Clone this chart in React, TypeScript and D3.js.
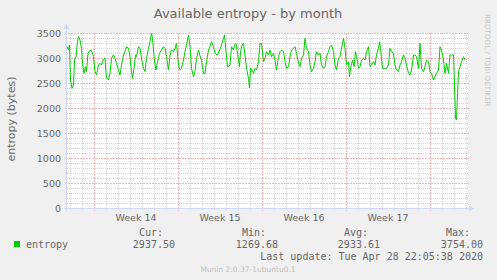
import React from "react";
import * as d3 from "d3";

const title = "Available entropy - by month";
const yLabel = "entropy (bytes)";
const yTicks = [0, 500, 1000, 1500, 2000, 2500, 3000, 3500];
const weekLabels = ["Week 14", "Week 15", "Week 16", "Week 17"];
const statHeads = ["Cur:", "Min:", "Avg:", "Max:"];
const statValues = ["2937.50", "1269.68", "2933.61", "3754.00"];
const seriesName = "entropy";
const lastUpdate = "Last update: Tue Apr 28 22:05:38 2020";
const footer = "Munin 2.0.37-1ubuntu0.1";
const watermark = "RRDTOOL / TOBI OETIKER";

const startTime = Date.UTC(2020, 2, 27, 18);
const endTime = Date.UTC(2020, 3, 30, 4);

// hours since startTime
const sampleHours = [
  0, 3, 5, 7, 10, 13, 15, 18, 21, 23, 26, 29, 31, 34, 37, 39, 42, 45, 49, 53, 56, 59, 63, 66, 69, 73, 76, 79, 83, 86,
  89, 93, 96, 99, 103, 106, 109, 113, 116, 119, 123, 126, 129, 131, 134, 137, 139, 143, 146, 149, 153, 156, 159, 163,
  166, 169, 171, 175, 178, 181, 185, 189, 193, 196, 199, 203, 206, 209, 213, 216, 219, 223, 226, 229, 233, 236, 239,
  243, 246, 249, 253, 256, 259, 263, 266, 269, 273, 276, 279, 283, 286, 289, 293, 296, 301, 305, 307, 310, 313, 315,
  318, 321, 323, 326, 329, 333, 335, 338, 341, 345, 347, 350, 353, 356, 359, 363, 365, 367, 370, 373, 376, 379, 383,
  386, 389, 393, 396, 399, 403, 406, 409, 413, 416, 419, 423, 426, 429, 433, 436, 439, 443, 446, 449, 453, 456, 459,
  463, 466, 469, 473, 476, 479, 483, 486, 489, 493, 496, 499, 503, 506, 509, 513, 516, 519, 523, 526, 529, 533, 536,
  539, 543, 546, 549, 553, 556, 559, 563, 565, 567, 571, 574, 577, 579, 583, 586, 589, 593, 596, 599, 603, 606, 609,
  613, 616, 619, 623, 625, 627, 631, 635, 639, 643, 646, 649, 653, 656, 659, 663, 666, 669, 673, 676, 679, 683, 686,
  689, 693, 696, 699, 703, 706, 709, 713, 716, 719, 723, 726, 729, 733, 736, 739, 743, 746, 749, 753, 756, 759, 763,
  766, 769, 773, 775, 777, 779, 781, 783, 786, 789, 793, 796,
];

const entropyValues = [
  3227, 3160, 3260, 2560, 2393, 2460, 2960, 3027, 3327, 3427, 3360, 3193, 2893, 2693, 2827, 2727, 3093, 3147, 3147, 3027,
  2727, 2660, 2860, 2893, 2860, 2973, 2993, 2600, 2560, 2693, 2993, 3060, 2993, 2893, 2760, 2660, 2860, 3060, 3127, 3227,
  3193, 3027, 2727, 2593, 2793, 3060, 3027, 3227, 3193, 2993, 2793, 2727, 2993, 3193, 3327, 3493, 3393, 2927, 2760, 2927,
  3093, 3160, 3227, 3193, 3027, 2760, 3060, 3160, 3127, 3193, 3293, 2860, 2760, 2793, 2960, 3127, 3260, 3460, 3227, 2793,
  2627, 2727, 2993, 3160, 3040, 2950, 2693, 2693, 2927, 3160, 3227, 3327, 3227, 3093, 3060, 3160, 3193, 3293, 3393, 3460,
  3127, 2827, 2827, 2860, 3227, 3160, 3260, 3293, 3093, 2827, 3127, 3260, 3293, 3060, 2793, 2593, 2407, 2793, 2760, 2693,
  2793, 2760, 2927, 3293, 3293, 2927, 2993, 3127, 3060, 3160, 3027, 3093, 2960, 2760, 3027, 3127, 3160, 3127, 2927, 2793,
  2827, 3027, 3160, 3193, 3227, 3093, 2893, 2827, 2993, 3060, 3393, 3193, 3127, 2860, 2727, 2793, 2927, 3127, 3060, 3093,
  2860, 2793, 2827, 3027, 3127, 3227, 3260, 3127, 2860, 2760, 2993, 3027, 3193, 3393, 3200, 2860, 2927, 2627, 2793, 2960,
  2827, 3127, 3027, 2793, 2827, 2960, 2993, 2960, 3127, 3227, 2827, 2860, 2927, 2860, 3060, 3193, 3327, 3193, 2793, 2793,
  2793, 2860, 3193, 3127, 3093, 2860, 2760, 2727, 2860, 2927, 3060, 2993, 2860, 2693, 2660, 2760, 3060, 3060, 3027, 2793,
  3293, 2793, 2727, 2827, 2960, 2927, 2727, 2693, 2560, 2627, 2693, 2760, 3227, 3160, 2960, 2693, 2893, 2693, 3060, 3060,
  3060, 2460, 1793, 1760, 2260, 2727, 2827, 2927, 3027, 2960,
];

const W = 497;
const H = 280;
const plotLeft = 67;
const plotRight = 468;
const plotTop = 33;
const plotBottom = 208;

const textColor = "#666666";
const lineColor = "#00CC00";
const minorGrid = "#D6D6D6";
const majorGrid = "#F7B4B4";
const axisColor = "#CFD6F8";

export default function App() {
  const x = d3
    .scaleUtc()
    .domain([new Date(startTime), new Date(endTime)])
    .range([plotLeft, plotRight]);
  const y = d3.scaleLinear().domain([0, 3500]).range([plotBottom, plotTop]);

  const data = sampleHours.map((h, i) => ({
    t: new Date(startTime + h * 3600000),
    v: entropyValues[i],
  }));

  const line = d3
    .line<{ t: Date; v: number }>()
    .x((d) => x(d.t))
    .y((d) => y(d.v));

  const mondays = d3.utcMonday.range(new Date(startTime), new Date(endTime));
  const mondaySet = new Set(mondays.map((d) => d.getTime()));
  const days = d3.utcDay
    .range(new Date(startTime), new Date(endTime))
    .filter((d) => !mondaySet.has(d.getTime()));
  const minorY = d3.range(0, 3501, 100).filter((v) => v % 500 !== 0);
  const majorY = yTicks.filter((v) => v > 0);

  const weekCenters = mondays
    .map((m) => new Date(m.getTime() + 3.5 * 86400000))
    .filter((d) => d.getTime() < endTime)
    .slice(0, weekLabels.length);

  const statRight = [163, 266, 368, 470];
  const valRight = [175, 278, 380, 483];

  return (
    <svg
      width={W}
      height={H}
      style={{ position: "absolute", left: 0, top: 0, display: "block" }}
      fontFamily="'DejaVu Sans', sans-serif"
    >
      <rect x={0} y={0} width={W} height={H} fill="#F0F0F0" />
      <rect x={plotLeft} y={plotTop} width={plotRight - plotLeft} height={plotBottom - plotTop} fill="#FFFFFF" />

      <g shapeRendering="crispEdges">
        {/* minor grid */}
        {minorY.map((v) => (
          <line
            key={"my" + v}
            x1={plotLeft - 2}
            x2={plotRight + 1}
            y1={Math.round(y(v)) + 0.5}
            y2={Math.round(y(v)) + 0.5}
            stroke={minorGrid}
            strokeDasharray="1,1"
          />
        ))}
        {days.map((d) => (
          <line
            key={"mx" + d.getTime()}
            x1={Math.round(x(d)) + 0.5}
            x2={Math.round(x(d)) + 0.5}
            y1={plotTop}
            y2={plotBottom + 2}
            stroke={minorGrid}
            strokeDasharray="1,1"
          />
        ))}
        {/* major grid */}
        {majorY.map((v) => (
          <line
            key={"My" + v}
            x1={plotLeft - 2}
            x2={plotRight + 1}
            y1={Math.round(y(v)) + 0.5}
            y2={Math.round(y(v)) + 0.5}
            stroke={majorGrid}
            strokeDasharray="2,1"
          />
        ))}
        {mondays.map((d) => (
          <line
            key={"Mx" + d.getTime()}
            x1={Math.round(x(d)) + 0.5}
            x2={Math.round(x(d)) + 0.5}
            y1={plotTop}
            y2={plotBottom + 3}
            stroke={majorGrid}
            strokeDasharray="2,1"
          />
        ))}

        {/* axes */}
        <line x1={plotLeft - 3} x2={plotRight + 1} y1={plotBottom + 0.5} y2={plotBottom + 0.5} stroke={axisColor} />
        <line x1={plotLeft - 0.5} x2={plotLeft - 0.5} y1={plotBottom + 3} y2={plotTop - 4} stroke={axisColor} />
      </g>
      <path
        d={`M${plotRight + 1},${plotBottom - 2.5} L${plotRight + 6},${plotBottom + 0.5} L${plotRight + 1},${plotBottom + 3.5} Z`}
        fill={axisColor}
      />
      <path
        d={`M${plotLeft - 3.5},${plotTop - 4} L${plotLeft - 0.5},${plotTop - 9} L${plotLeft + 2.5},${plotTop - 4} Z`}
        fill={axisColor}
      />

      {/* data line */}
      <path d={line(data) || ""} fill="none" stroke={lineColor} strokeWidth={1} />

      {/* title */}
      <text x={248} y={18} textAnchor="middle" fontSize={13} fill={textColor}>
        {title}
      </text>

      {/* y axis label */}
      <text
        transform={`translate(14.5,119) rotate(-90)`}
        textAnchor="middle"
        fontSize={11}
        fill={textColor}
      >
        {yLabel}
      </text>

      {/* y tick labels */}
      {yTicks.map((v) => (
        <text key={"yt" + v} x={61} y={y(v) + 3.5} textAnchor="end" fontSize={9.5} fill={textColor}>
          {v}
        </text>
      ))}

      {/* week labels */}
      {weekCenters.map((d, i) => (
        <text key={"wk" + i} x={x(d)} y={220.5} textAnchor="middle" fontSize={9.5} fill={textColor}>
          {weekLabels[i]}
        </text>
      ))}

      {/* watermark */}
      <text transform={`translate(485,14) rotate(90)`} fontSize={7.2} fill="#C8C8C8">
        {watermark}
      </text>

      {/* legend */}
      <g fontFamily="'DejaVu Sans Mono', monospace" fontSize={10} fill={textColor}>
        {statHeads.map((s, i) => (
          <text key={"sh" + i} x={statRight[i]} y={235.5} textAnchor="end">
            {s}
          </text>
        ))}
        <rect x={14} y={241} width={6} height={6} fill={lineColor} />
        <text x={26} y={247.5}>
          {seriesName}
        </text>
        {statValues.map((s, i) => (
          <text key={"sv" + i} x={valRight[i]} y={247.5} textAnchor="end">
            {s}
          </text>
        ))}
        <text x={483} y={260} textAnchor="end">
          {lastUpdate}
        </text>
      </g>

      <text x={248} y={271.5} textAnchor="middle" fontSize={7.5} fill="#C0C0C0">
        {footer}
      </text>
    </svg>
  );
}
